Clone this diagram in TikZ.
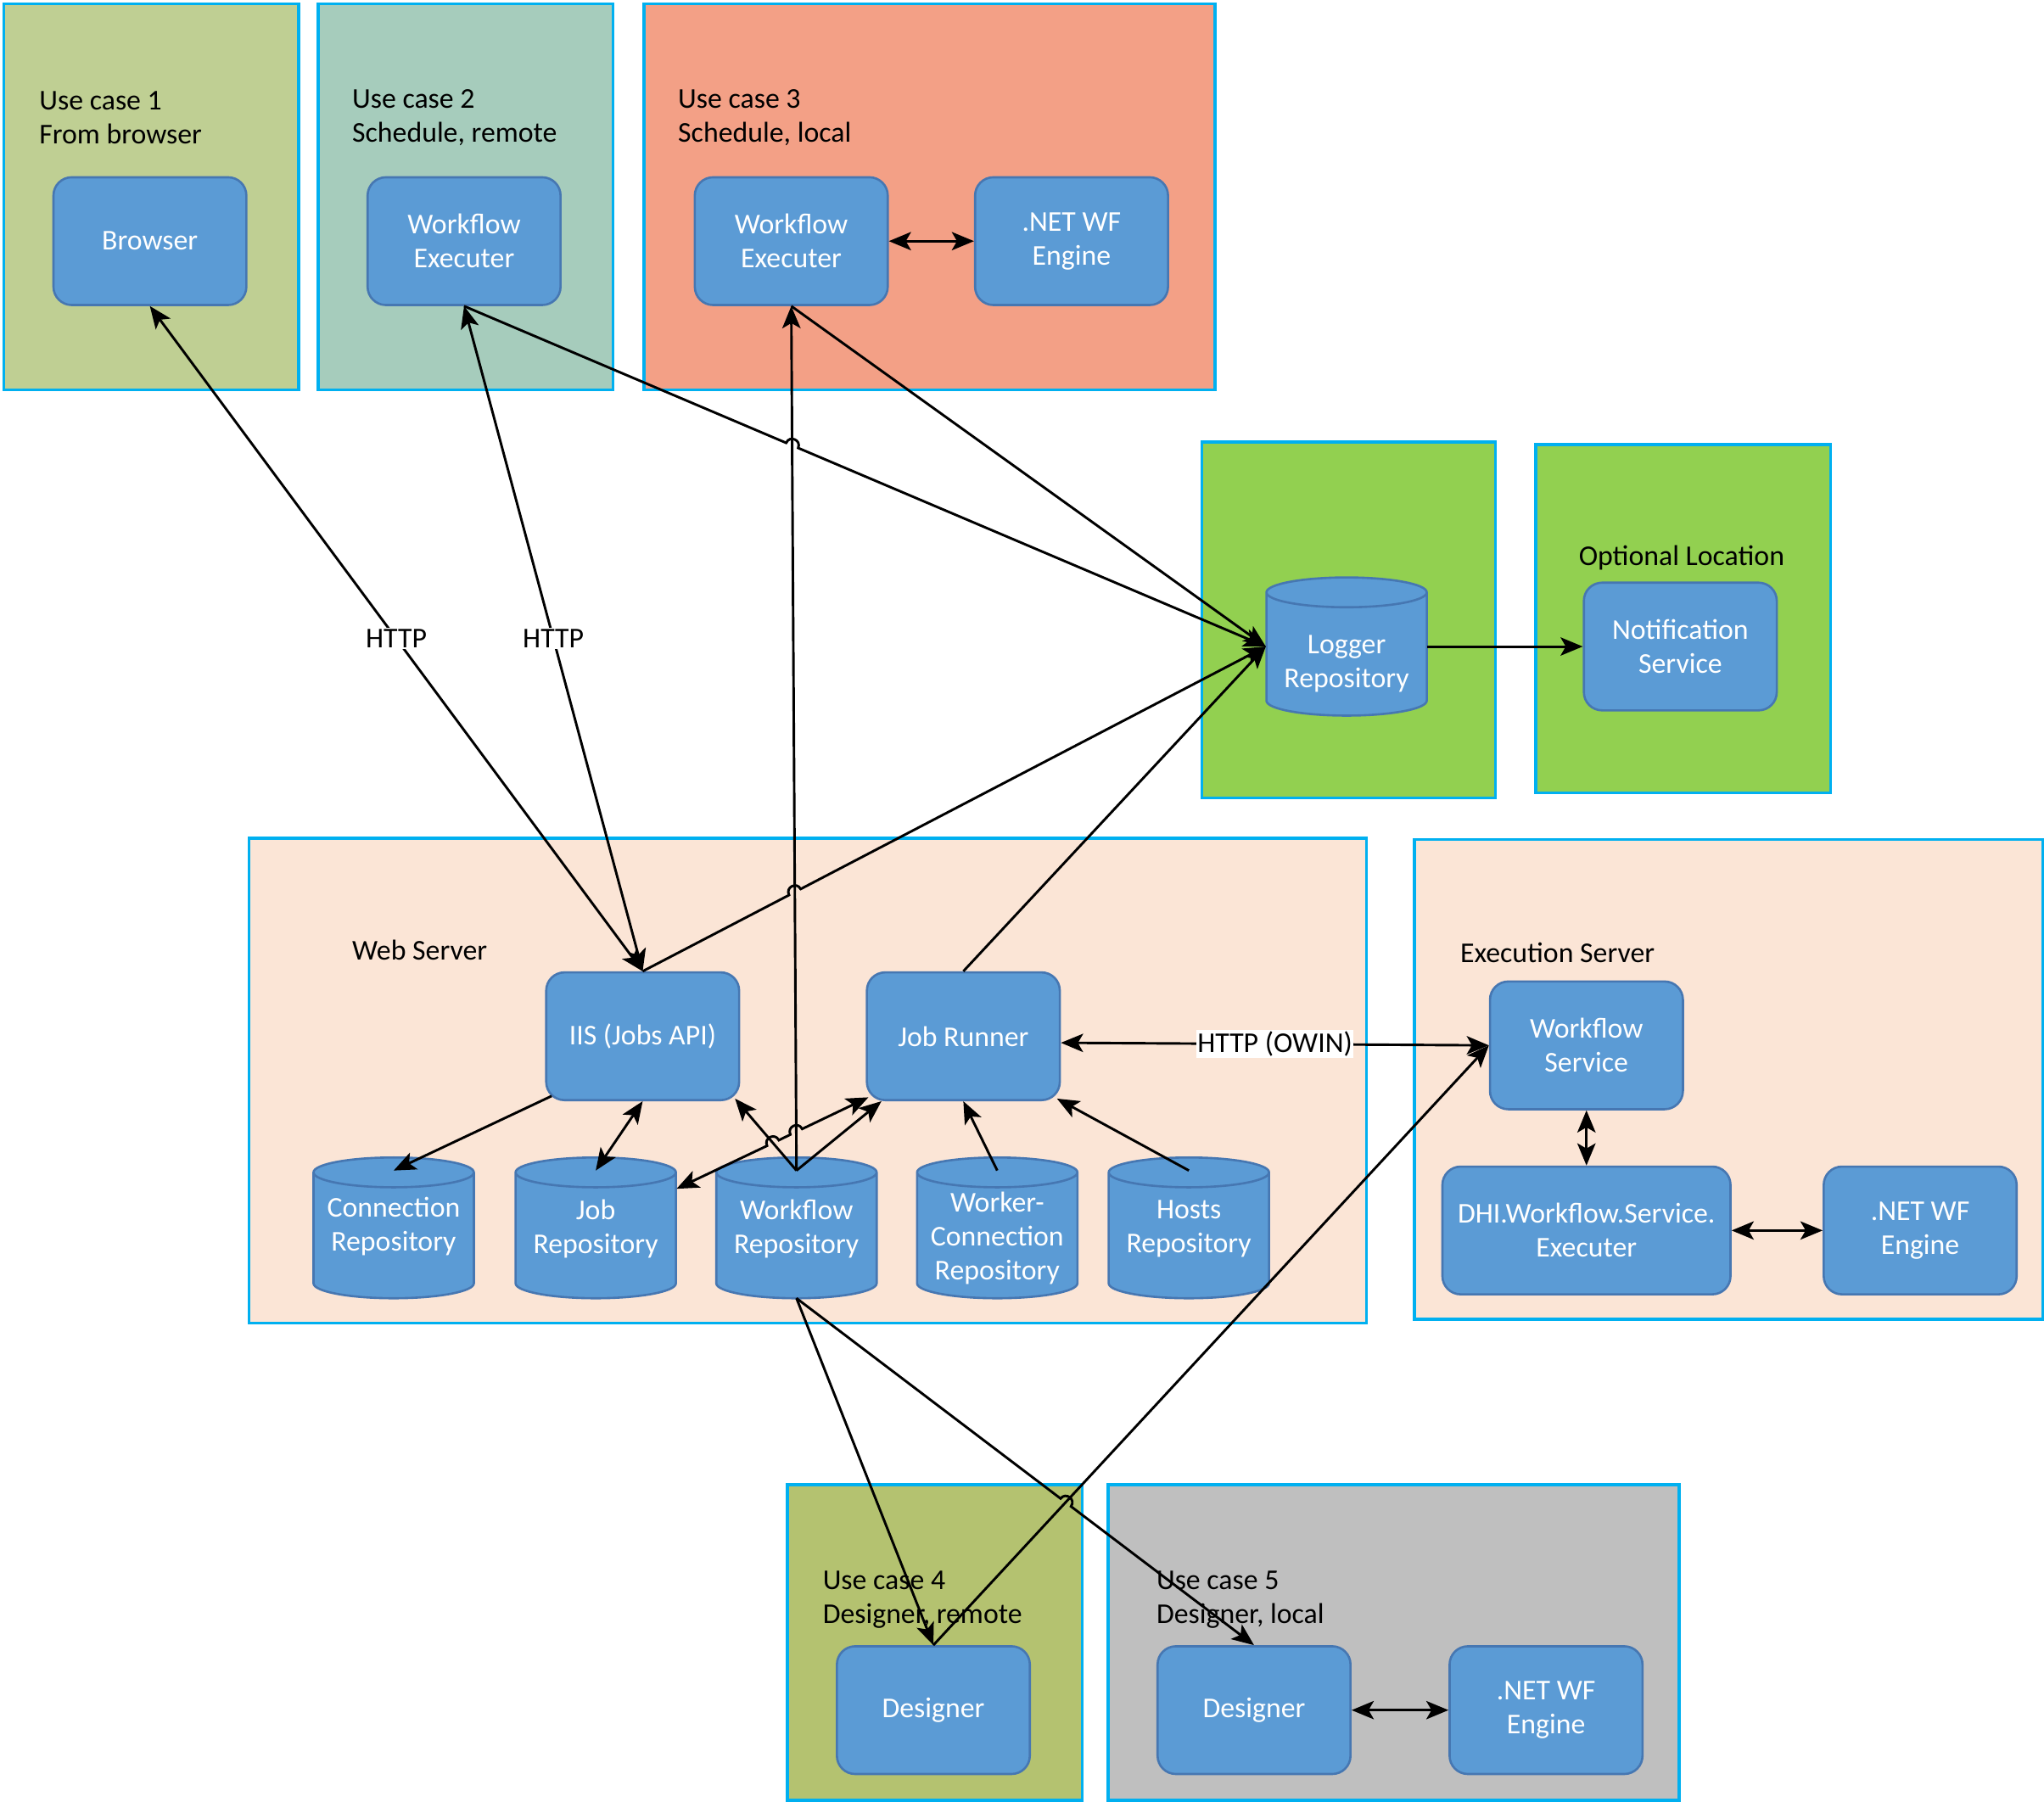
\documentclass[tikz,border=0pt]{standalone}
\usepackage{fontspec}
\setmainfont{Carlito}
\usetikzlibrary{shapes.geometric,arrows.meta,calc}
\definecolor{cyanb}{HTML}{00B0F0}
\definecolor{ucA}{HTML}{BFCF93}
\definecolor{ucB}{HTML}{A6CCBC}
\definecolor{ucC}{HTML}{F3A086}
\definecolor{grn}{HTML}{92D050}
\definecolor{peach}{HTML}{FBE5D6}
\definecolor{ucD}{HTML}{B4C270}
\definecolor{ucE}{HTML}{BFBFBF}
\definecolor{nodef}{HTML}{5B9BD5}
\definecolor{nodeb}{HTML}{4677B2}
\begin{document}
\begin{tikzpicture}[x=1pt,y=-1pt,font=\fontsize{22}{26}\selectfont,
  cont/.style={draw=cyanb,line width=2.2pt,anchor=north west,inner sep=0pt},
  box/.style={draw=nodeb,fill=nodef,line width=1.7pt,rounded corners=14pt,minimum width=148pt,minimum height=98pt,text=white,align=center,inner sep=2pt},
  cyl/.style={cylinder,shape border rotate=90,aspect=0.22,draw=nodeb,fill=nodef,line width=1.7pt,minimum width=123pt,minimum height=108pt,inner sep=2pt,anchor=shape center},
  cyltext/.style={text=white,align=center,inner sep=0pt},
  txt/.style={align=left,anchor=west,inner sep=0pt},
  conn/.style={line width=1.9pt,draw=black},
  arr/.style={-{Stealth[length=17pt,width=14pt,inset=4pt]}},
  arrs/.style={{Stealth[length=17pt,width=14pt,inset=4pt]}-{Stealth[length=17pt,width=14pt,inset=4pt]}},
  lbl/.style={fill=white,inner sep=1pt,text=black},
  hopover/.style={bend left=90,looseness=1.7}
]
\useasboundingbox (0,0) rectangle (1568,1382);
% containers
\node[cont,fill=ucA,minimum width=226pt,minimum height=296pt] (uc1) at (2,2) {};
\node[cont,fill=ucB,minimum width=226pt,minimum height=296pt] (uc2) at (243,2) {};
\node[cont,fill=ucC,minimum width=438pt,minimum height=296pt] (uc3) at (493,2) {};
\node[cont,fill=grn,minimum width=225pt,minimum height=273pt] (logbox) at (921,338) {};
\node[cont,fill=grn,minimum width=226pt,minimum height=267pt] (optbox) at (1177,340) {};
\node[cont,fill=peach,minimum width=857pt,minimum height=372pt] (websrv) at (190,642) {};
\node[cont,fill=peach,minimum width=482pt,minimum height=368pt] (execsrv) at (1084,643) {};
\node[cont,fill=ucD,minimum width=226pt,minimum height=242pt] (uc4) at (603,1138) {};
\node[cont,fill=ucE,minimum width=438pt,minimum height=242pt] (uc5) at (849,1138) {};
% container labels
\node[txt] (t1) at (30,90) {Use case 1\\From browser};
\node[txt] (t2) at (270,90) {Use case 2\\Schedule, remote};
\node[txt] (t3) at (520,90) {Use case 3\\Schedule, local};
\node[inner sep=0pt] (t6) at (1290,428) {Optional Location};
\node[txt] (t7) at (270,729) {Web Server};
\node[txt] (t8) at (1120,731) {Execution Server};
\node[txt] (t4) at (631,1227) {Use case 4\\Designer, remote};
\node[txt] (t5) at (887,1227) {Use case 5\\Designer, local};
% nodes
\node[box] (browser) at (115,185) {Browser};
\node[box] (wfe2) at (356,185) {Workflow\\Executer};
\node[box] (wfe3) at (607,185) {Workflow\\Executer};
\node[box] (net3) at (822,185) {.NET WF\\Engine};
\node[cyl,minimum height=106pt] (logger) at (1033,496) {\hspace*{100pt}};
\node[cyltext] (loggerL) at (1033,509) {Logger\\Repository};
\node[box] (notif) at (1289,496) {Notification\\Service};
\node[box] (iis) at (493,795) {IIS (Jobs API)};
\node[box] (jr) at (739,795) {Job Runner};
\node[cyl] (conn) at (302,942) {\hspace*{100pt}};
\node[cyltext] (connL) at (302,941) {Connection\\Repository};
\node[cyl] (jrepo) at (457,942) {\hspace*{100pt}};
\node[cyltext] (jrepoL) at (457,943) {Job\\Repository};
\node[cyl] (wrepo) at (611,942) {\hspace*{100pt}};
\node[cyltext] (wrepoL) at (611,943) {Workflow\\Repository};
\node[cyl] (wcrepo) at (765,942) {\hspace*{100pt}};
\node[cyltext] (wcrepoL) at (765,950) {Worker-\\Connection\\Repository};
\node[cyl] (hosts) at (912,942) {\hspace*{100pt}};
\node[cyltext] (hostsL) at (912,943) {Hosts\\Repository};
\node[box] (ws) at (1217,802) {Workflow\\Service};
\node[box,minimum width=221pt] (dhi) at (1217,944) {DHI.Workflow.Service.\\Executer};
\node[box] (net4) at (1473,944) {.NET WF\\Engine};
\node[box] (des4) at (716,1312) {Designer};
\node[box] (des5) at (962,1312) {Designer};
\node[box] (net5) at (1186,1312) {.NET WF\\Engine};
% helper coordinates
\coordinate (wrepoT) at ($(wrepo.shape center)+(0,-44)$);
\coordinate (wrepoB) at ($(wrepo.shape center)+(0,54)$);
\coordinate (connT) at ($(conn.shape center)+(0,-44)$);
\coordinate (jrepoT) at ($(jrepo.shape center)+(0,-44)$);
\coordinate (jrepoR) at ($(jrepo.shape center)+(62,-30)$);
\coordinate (wcT) at ($(wcrepo.shape center)+(0,-44)$);
\coordinate (hostsT) at ($(hosts.shape center)+(0,-44)$);
\coordinate (logW) at ($(logger.shape center)+(-62,0)$);
\coordinate (logE) at ($(logger.shape center)+(62,0)$);
\coordinate (iisSW) at ($(iis.south west)+(5,-4)$);
\coordinate (iisSE) at ($(iis.south east)+(-4,-2)$);
\coordinate (jrSWa) at ($(jr.south west)+(12,0)$);
\coordinate (jrSWb) at ($(jr.south west)+(2,-3)$);
\coordinate (jrSE) at ($(jr.south east)+(-3,-2)$);
\coordinate (jrE) at ($(jr.east)+(0,5)$);
\coordinate (wfe2S) at (wfe2.south);
\coordinate (wfe3S) at (wfe3.south);
\coordinate (iisN) at (iis.north);
\coordinate (des4N) at (des4.north);
\coordinate (des5N) at (des5.north);
\coordinate (wsW) at (ws.west);
\coordinate (h3) at (intersection of wfe2S--logW and wrepoT--wfe3S);
\coordinate (h6) at (intersection of iisN--logW and wrepoT--wfe3S);
\coordinate (h18a) at (intersection of jrepoR--jrSWb and wrepoT--iisSE);
\coordinate (h18b) at (intersection of jrepoR--jrSWb and wrepoT--wfe3S);
\coordinate (h20) at (intersection of wrepoB--des5N and des4N--wsW);
% connectors
\draw[conn,arrs] (browser.south) -- node[lbl] {HTTP} (iisN);
\draw[conn,arrs] (wfe2S) -- node[lbl] {HTTP} (iisN);
\draw[conn,arr] (wrepoT) -- (wfe3S);
\draw[conn,arr] (wfe2S) -- ($(h3)!5pt!(wfe2S)$) to[hopover] ($(h3)!5pt!(logW)$) -- (logW);
\draw[conn,arr] (wfe3S) -- (logW);
\draw[conn,arr] (iisN) -- ($(h6)!5pt!(iisN)$) to[hopover] ($(h6)!5pt!(logW)$) -- (logW);
\draw[conn,arr] (jr.north) -- (logW);
\draw[conn,arr] (logE) -- (notif.west);
\draw[conn,arrs] (jrE) -- node[lbl] {HTTP (OWIN)} (wsW);
\draw[conn,arrs] (ws.south) -- (dhi.north);
\draw[conn,arrs] (dhi.east) -- (net4.west);
\draw[conn,arrs] (wfe3.east) -- (net3.west);
\draw[conn,arrs] (des5.east) -- (net5.west);
\draw[conn,arr] (iisSW) -- (connT);
\draw[conn,arrs] (iis.south) -- (jrepoT);
\draw[conn,arr] (wrepoT) -- (iisSE);
\draw[conn,arr] (wrepoT) -- (jrSWa);
\draw[conn,arrs] (jrepoR) -- ($(h18a)!5pt!(jrepoR)$) to[hopover] ($(h18a)!5pt!(jrSWb)$) -- ($(h18b)!5pt!(jrepoR)$) to[hopover] ($(h18b)!5pt!(jrSWb)$) -- (jrSWb);
\draw[conn,arr] (wrepoB) -- (des4N);
\draw[conn,arr] (wrepoB) -- ($(h20)!5pt!(wrepoB)$) to[hopover] ($(h20)!5pt!(des5N)$) -- (des5N);
\draw[conn,arr] (des4N) -- (wsW);
\draw[conn,arr] (wcT) -- (jr.south);
\draw[conn,arr] (hostsT) -- (jrSE);
\end{tikzpicture}
\end{document}
